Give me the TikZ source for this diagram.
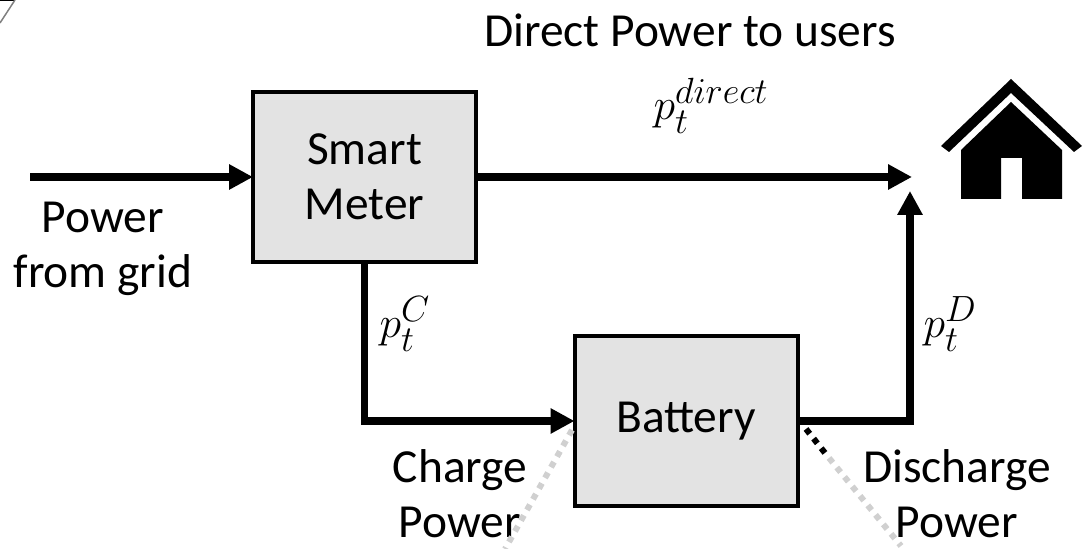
\documentclass[tikz,border=0pt]{standalone}
\usepackage{amsmath}
\usepackage{fontspec}
\setmainfont{Carlito}
\usetikzlibrary{arrows.meta}
\definecolor{boxgray}{HTML}{E3E3E3}
\definecolor{dotgray}{HTML}{D0D0D0}

\begin{document}
\begin{tikzpicture}[
    every node/.style={font=\fontsize{27}{31.3}\selectfont},
    block/.style={draw, line width=0.08cm, fill=boxgray, outer sep=0pt, minimum width=4.46cm, minimum height=3.4cm, align=center},
    label/.style={align=center},
    mathlabel/.style={font=\fontsize{32}{36}\selectfont},
    flow/.style={line width=0.15cm, -{Triangle[length=0.48cm, width=0.48cm]}},
    dots/.style={line width=0.12cm, dash pattern=on 0.12cm off 0.125cm}
  ]
  \useasboundingbox (0,0) rectangle (21.76,10.98);

  % Nodos
  \node[block] (meter) at (7.29,7.44) {Smart\\Meter};
  \node[block] (battery) at (13.72,2.56) {Battery};
  \node[label] (direct) at (13.8,10.38) {Direct Power to users};
  \node[label] (grid) at (2.06,6.0) {Power\\from grid};
  \node[label] (charge) at (9.2,1.1) {Charge\\Power};
  \node[label] (discharge) at (19.14,1.1) {Discharge\\Power};
  \node[mathlabel] (pdirect) at (14.22,8.86) {$p_t^{direct}$};
  \node[mathlabel] (pc) at (8.1,4.5) {$p_t^C$};
  \node[mathlabel] (pd) at (19.0,4.5) {$p_t^D$};

  % Extremos libres
  \coordinate (gridstart) at (0.6,7.44);
  \coordinate (directend) at (18.24,7.44);
  \coordinate (dischargeend) at (18.2,7.16);
  \coordinate (chargefoot) at (10.1,0);
  \coordinate (chargetop) at (11.44,2.38);
  \coordinate (dischargetop) at (16.12,2.4);
  \coordinate (dischargemid) at (16.5,1.92);
  \coordinate (dischargegray) at (16.58,1.82);
  \coordinate (dischargefoot) at (18.02,0.06);
  \coordinate (cornera) at (0,10.98);
  \coordinate (cornerb) at (0.3,10.98);
  \coordinate (cornerc) at (0,10.52);

  % Aristas
  \draw[flow] (gridstart) -- (meter);
  \draw[flow] (meter) -- (directend);
  \draw[flow] (meter.south) |- (battery.west);
  \draw[flow] (battery.east) -| (dischargeend);
  \draw[dots, dotgray] (chargetop) -- (chargefoot);
  \draw[dots] (dischargetop) -- (dischargemid);
  \draw[dots, dotgray] (dischargegray) -- (dischargefoot);
  \draw[line width=0.06cm] (cornera) -- (cornerb);
  \draw[line width=0.03cm, gray] (cornerb) -- (cornerc);

  % Casa
  \fill (20.22,9.40) -- (21.64,8.06) -- (21.48,7.94) -- (20.22,9.12) -- (18.98,7.94) -- (18.82,8.06) -- cycle;
  \fill (20.22,8.94) -- (21.24,7.98) -- (21.24,7.0) -- (20.44,7.0) -- (20.44,7.82) -- (20.02,7.82) -- (20.02,7.0) -- (19.22,7.0) -- (19.22,7.98) -- cycle;
\end{tikzpicture}
\end{document}
